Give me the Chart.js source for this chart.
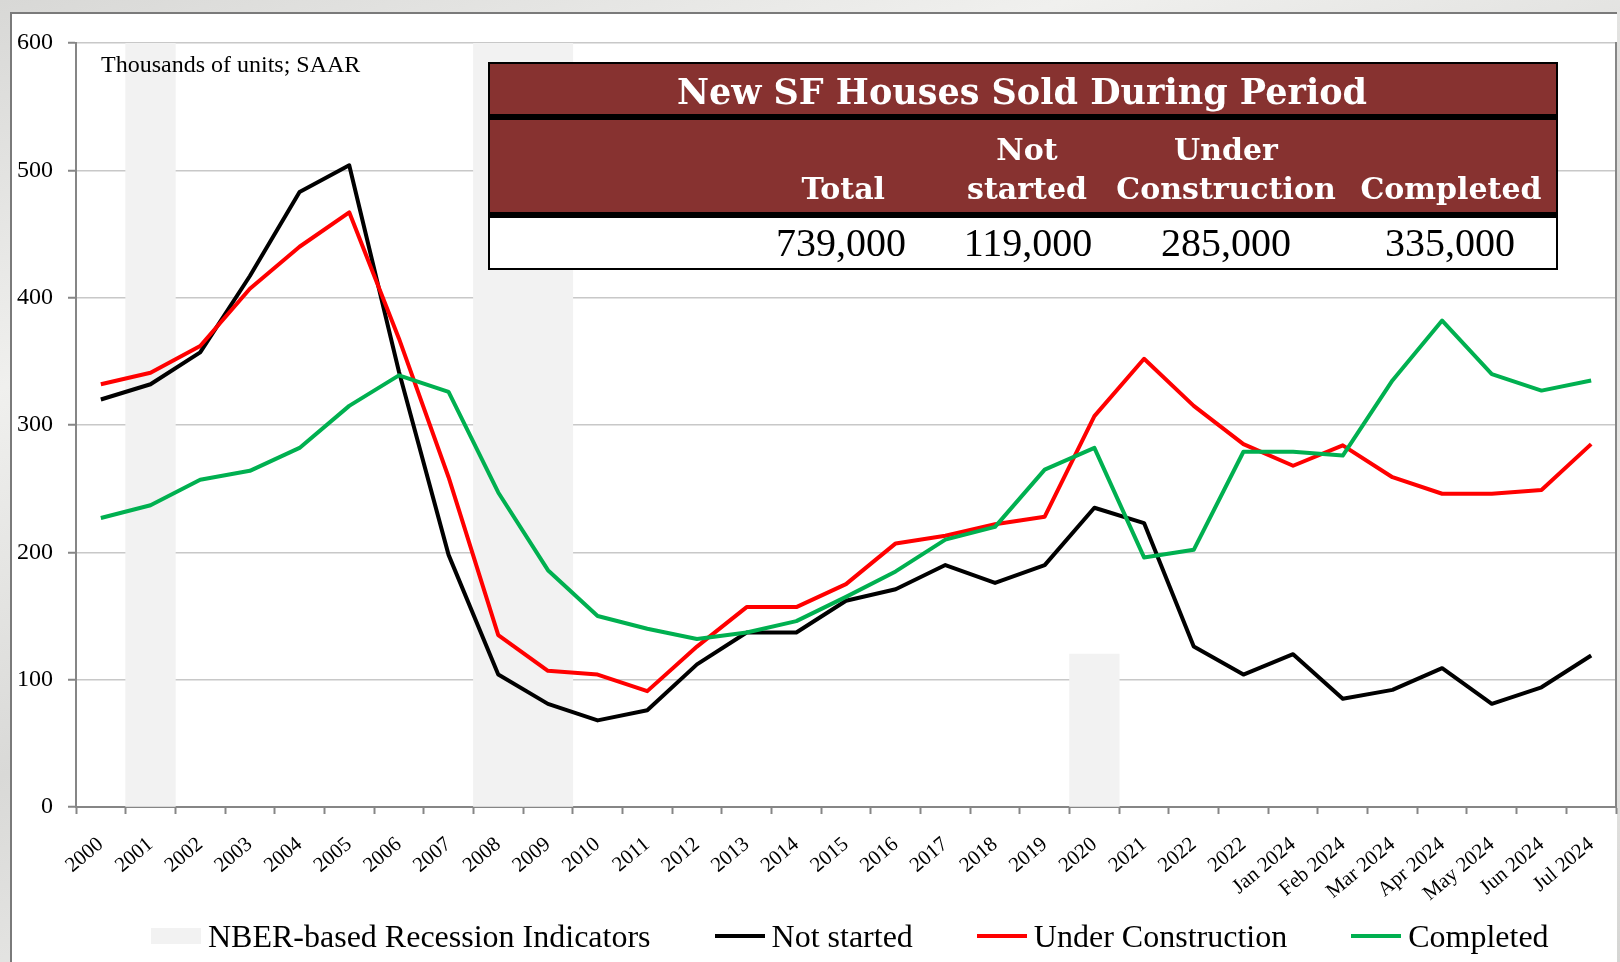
<!DOCTYPE html>
<html>
<head>
<meta charset="utf-8">
<title>New SF Houses Sold by Stage of Construction</title>
<script src="https://cdn.jsdelivr.net/npm/chart.js@4.4.1/dist/chart.umd.min.js"></script>
<style>
  html, body { margin: 0; padding: 0; }
  body {
    width: 1620px; height: 962px; overflow: hidden; position: relative;
    background: linear-gradient(160deg, #d8d8d6 0%, #f0f0ee 25%, #d9d9d7 50%, #eeeeec 75%, #d5d5d3 100%);
    font-family: 'Liberation Serif', 'Times New Roman', serif;
  }
  #frame {
    position: absolute; left: 10px; top: 12px; width: 1607px; height: 960px;
    background: #fff; border-left: 2px solid #7a7a7a; border-top: 2px solid #7a7a7a;
    box-sizing: border-box;
  }
  #c { position: absolute; left: 0; top: 0; }
  .txt { position: absolute; white-space: nowrap; }
  #unit { left: 101px; top: 52px; font-size: 24px; line-height: 24px; color: #000; }

  #table {
    position: absolute; left: 488px; top: 62px; width: 1070px; height: 208px;
    box-sizing: border-box; border: 2px solid #000; background: #000;
  }
  #table .band { position: absolute; left: 0; width: 1066px; }
  #titleBand { top: 0; height: 50px; background: #873230; }
  #headBand { top: 56px; height: 92px; background: #873230; }
  #valBand { top: 154px; height: 50px; background: #fff; }
  .ttl { font-family: 'DejaVu Serif', serif; font-weight: bold; color: #fff; }
  .big { font-size: 35px; line-height: 35px; width: 900px; text-align: center; }
  .hd { font-size: 30px; line-height: 30px; }
  .val { font-size: 40px; line-height: 40px; color: #000; }
  .c { width: 400px; text-align: center; }
  .r { width: 300px; text-align: right; }

  #legend {
    position: absolute; left: 151px; top: 920px; height: 32px;
    display: flex; align-items: center; gap: 64px;
  }
  .item { display: flex; align-items: center; font-size: 32px; line-height: 32px; color: #000; }
  .swatch { width: 50px; margin-right: 7px; }
</style>
</head>
<body>
<div id="frame"></div>
<canvas id="c" width="1620" height="962" style="width:1620px;height:962px"></canvas>

<div id="unit" class="txt">Thousands of units; SAAR</div>

<div id="table">
  <div id="titleBand" class="band"></div>
  <div id="headBand" class="band"></div>
  <div id="valBand" class="band"></div>
</div>
<div id="tableText"></div>

<div id="legend"></div>

<script>
// categories (x axis)
const periods = [
  '2000', '2001', '2002', '2003', '2004', '2005', '2006', '2007', '2008', '2009',
  '2010', '2011', '2012', '2013', '2014', '2015', '2016', '2017', '2018', '2019',
  '2020', '2021', '2022', '2022',
  'Jan 2024', 'Feb 2024', 'Mar 2024', 'Apr 2024', 'May 2024', 'Jun 2024', 'Jul 2024'
];

// thousands of units, SAAR
const notStarted = [
  320, 332, 357, 417, 483, 504, 342, 198, 104, 81,
  68, 76, 112, 137, 137, 162, 171, 190, 176, 190,
  235, 223, 126, 104,
  120, 85, 92, 109, 81, 94, 119
];
const underConstruction = [
  332, 341, 362, 407, 440, 467, 368, 259, 135, 107,
  104, 91, 126, 157, 157, 175, 207, 213, 222, 228,
  307, 352, 315, 285,
  268, 284, 259, 246, 246, 249, 285
];
const completed = [
  227, 237, 257, 264, 282, 315, 339, 326, 247, 186,
  150, 140, 132, 137, 146, 165, 185, 210, 220, 265,
  282, 196, 202, 279,
  279, 276, 335, 382, 340, 327, 335
];

// NBER recession indicator (secondary axis, 0..1)
const recession = [
  null, 1, null, null, null, null, null, null, 1, 1,
  null, null, null, null, null, null, null, null, null, null,
  0.2, null, null, null,
  null, null, null, null, null, null, null
];

// summary table
const tableTitle = 'New SF Houses Sold During Period';
const tableHeads = [['', 'Total'], ['Not', 'started'], ['Under', 'Construction'], ['', 'Completed']];
const tableValues = ['739,000', '119,000', '285,000', '335,000'];

const yTicks = { min: 0, max: 600, step: 100 };

const SERIF = "'Liberation Serif', 'Times New Roman', serif";
const AXIS_GREY = '#868686';

// ---- table text ----
(function buildTable() {
  const host = document.getElementById('tableText');
  const add = (cls, text, left, top) => {
    const d = document.createElement('div');
    d.className = 'txt ' + cls;
    d.textContent = text;
    d.style.left = left + 'px';
    d.style.top = top + 'px';
    host.appendChild(d);
  };
  add('ttl big', tableTitle, 1022 - 450, 74);
  // header columns: [anchor x, align]
  const cols = [[885, 'r'], [1027, 'c'], [1226, 'c'], [1451, 'c']];
  tableHeads.forEach((h, i) => {
    const [x, al] = cols[i];
    const left = al === 'r' ? x - 300 : x - 200;
    if (h[0]) add('ttl hd ' + al, h[0], left, 135);
    add('ttl hd ' + al, h[1], left, 174);
  });
  const vcols = [[906, 'r'], [1028, 'c'], [1226, 'c'], [1450, 'c']];
  tableValues.forEach((v, i) => {
    const [x, al] = vcols[i];
    add('val ' + al, v, al === 'r' ? x - 300 : x - 200, 222.5);
  });
})();

// ---- chart ----
const lineDs = (label, data, color, order) => ({
  type: 'line',
  label,
  data,
  borderColor: color,
  backgroundColor: color,
  borderWidth: 4,
  pointRadius: 0,
  tension: 0,
  borderJoinStyle: 'round',
  fill: false,
  yAxisID: 'y',
  order
});

const htmlLegend = {
  id: 'htmlLegend',
  afterUpdate(chart) {
    const box = document.getElementById('legend');
    box.innerHTML = '';
    chart.data.datasets.forEach(ds => {
      const item = document.createElement('div');
      item.className = 'item';
      const sw = document.createElement('span');
      sw.className = 'swatch';
      if (ds.type === 'bar') {
        sw.style.height = '16px';
        sw.style.background = ds.backgroundColor;
      } else {
        sw.style.height = '4px';
        sw.style.background = ds.borderColor;
      }
      const tx = document.createElement('span');
      tx.textContent = ds.label;
      item.appendChild(sw);
      item.appendChild(tx);
      box.appendChild(item);
    });
  }
};

new Chart(document.getElementById('c'), {
  data: {
    labels: periods,
    datasets: [
      {
        type: 'bar',
        label: 'NBER-based Recession Indicators',
        data: recession,
        yAxisID: 'y2',
        backgroundColor: '#f2f2f2',
        borderWidth: 0,
        barPercentage: 1,
        categoryPercentage: 1,
        order: 10
      },
      lineDs('Not started', notStarted, '#000000', 3),
      lineDs('Under Construction', underConstruction, '#ff0000', 2),
      lineDs('Completed', completed, '#00b050', 1)
    ]
  },
  options: {
    responsive: false,
    animation: false,
    layout: { padding: { left: 0, right: 4, top: 43, bottom: 45 } },
    plugins: {
      legend: { display: false },
      tooltip: { enabled: false }
    },
    scales: {
      x: {
        offset: true,
        grid: { offset: true, drawOnChartArea: false, tickLength: 7, tickColor: AXIS_GREY, tickWidth: 2 },
        border: { color: AXIS_GREY, width: 2 },
        ticks: {
          autoSkip: false, maxRotation: 40, minRotation: 40, padding: 18,
          color: '#000', font: { family: SERIF, size: 21 }
        },
        afterFit: s => {
          s.height = 110;
          // rotated labels must not push the plot edges inwards
          s.paddingLeft = 0;
          s.paddingRight = 0;
        }
      },
      y: {
        min: yTicks.min,
        max: yTicks.max,
        ticks: { stepSize: yTicks.step, padding: 15, color: '#000', font: { family: SERIF, size: 24 } },
        grid: { color: '#c8c8c8', lineWidth: 1.5, tickColor: AXIS_GREY, tickLength: 8, tickWidth: 2 },
        border: { color: AXIS_GREY, width: 2 },
        afterFit: s => { s.width = 76; }
      },
      y2: {
        position: 'right',
        min: 0,
        max: 1,
        ticks: { display: false },
        grid: { drawOnChartArea: false, drawTicks: false },
        border: { color: AXIS_GREY, width: 2 },
        afterFit: s => { s.width = 0; }
      }
    }
  },
  plugins: [htmlLegend]
});
</script>
</body>
</html>
